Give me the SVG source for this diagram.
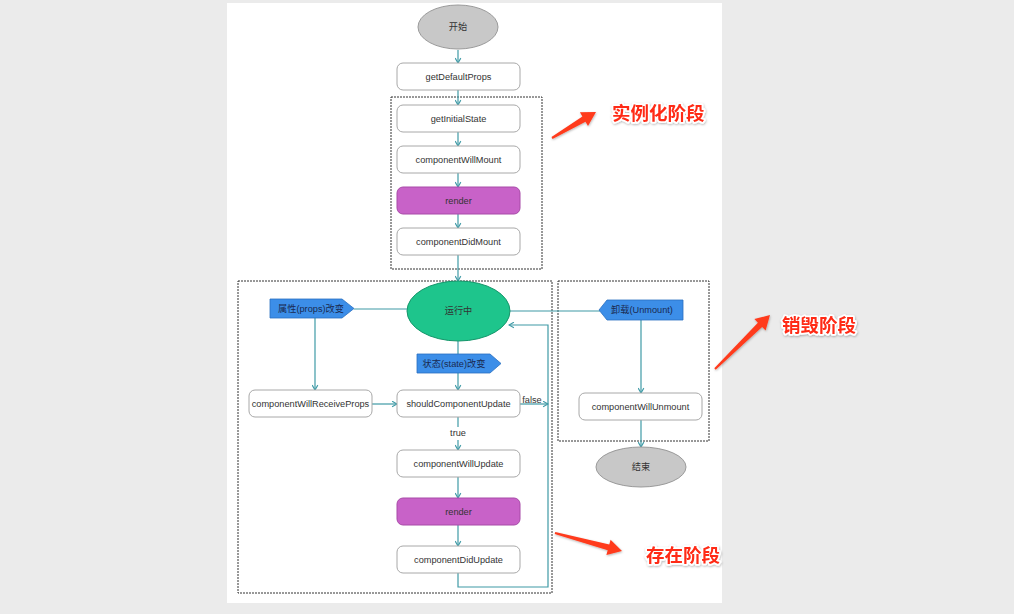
<svg xmlns="http://www.w3.org/2000/svg" width="1014" height="614" viewBox="0 0 1014 614">
<style>
.node rect{fill:#fff;stroke:#a8a8a8;stroke-width:1}
.node text,.lbl{font-family:"Liberation Sans","Noto Sans CJK SC",sans-serif;font-size:9.2px;fill:#333;text-anchor:middle;dominant-baseline:central}
.node rect.pink{fill:#c862c8;stroke:#a84aa8}
.term ellipse{fill:#c8c8c8;stroke:#9a9a9a}
.run ellipse{fill:#1ec58c;stroke:#15956a}
.evt polygon{fill:#3c8ee8;stroke:#2a70c0;stroke-width:0.8}
.evt text{fill:#1a2a50}
.phase{fill:none;stroke:#333;stroke-width:1;stroke-dasharray:2 1}
#connectors line,#connectors path{fill:none;stroke:#3f9aa6;stroke-width:1.2}
.red{fill:#ff3a1c}
.rtext{font-family:"Noto Sans CJK SC",sans-serif;font-size:18.5px;font-weight:bold;fill:#ff2a14;stroke:#fff;stroke-width:3.5;paint-order:stroke;stroke-linejoin:round}
</style>
<defs>
<marker id="ah" viewBox="0 0 10 10" refX="9" refY="5" markerWidth="7" markerHeight="7" markerUnits="userSpaceOnUse" orient="auto">
<path d="M2,1 L9,5 L2,9" fill="none" stroke="#3f9aa6" stroke-width="1.6"/>
</marker>
<filter id="sh" x="-20%" y="-40%" width="140%" height="180%">
<feDropShadow dx="0.5" dy="1" stdDeviation="1" flood-color="#000" flood-opacity="0.3"/>
</filter>
</defs>
<rect width="1014" height="614" fill="#ebebeb"/>
<rect x="227" y="3" width="495" height="600" fill="#fff"/>

<g id="phases">
<rect class="phase" x="391" y="97" width="151" height="172"/>
<rect class="phase" x="238" y="281" width="314" height="312"/>
<rect class="phase" x="558" y="281" width="151" height="160"/>
</g>

<g id="connectors">
<line x1="458" y1="50" x2="458" y2="63" marker-end="url(#ah)"/>
<line x1="458" y1="90" x2="458" y2="105" marker-end="url(#ah)"/>
<line x1="458" y1="132" x2="458" y2="146" marker-end="url(#ah)"/>
<line x1="458" y1="173" x2="458" y2="187" marker-end="url(#ah)"/>
<line x1="458" y1="214" x2="458" y2="228" marker-end="url(#ah)"/>
<line x1="458" y1="255" x2="458" y2="281" marker-end="url(#ah)"/>
<line x1="407" y1="309" x2="354" y2="309"/>
<line x1="315" y1="318" x2="315" y2="390" marker-end="url(#ah)"/>
<line x1="458" y1="341" x2="458" y2="354"/>
<line x1="458" y1="373" x2="458" y2="390" marker-end="url(#ah)"/>
<line x1="372" y1="404" x2="397" y2="404" marker-end="url(#ah)"/>
<line x1="520" y1="404" x2="548" y2="404" marker-end="url(#ah)"/>
<line x1="458" y1="417" x2="458" y2="427"/>
<line x1="458" y1="440" x2="458" y2="450" marker-end="url(#ah)"/>
<line x1="458" y1="477" x2="458" y2="498" marker-end="url(#ah)"/>
<line x1="458" y1="525" x2="458" y2="546" marker-end="url(#ah)"/>
<path d="M458,573 V587 H548 V325 H509" marker-end="url(#ah)"/>
<line x1="510" y1="311" x2="600" y2="311"/>
<line x1="641" y1="320" x2="641" y2="393" marker-end="url(#ah)"/>
<line x1="641" y1="420" x2="641" y2="447" marker-end="url(#ah)"/>
<text class="lbl" x="532" y="400">false</text>
<text class="lbl" x="458" y="433">true</text>
</g>

<g id="start" class="node term"><ellipse cx="458" cy="27" rx="40" ry="22"/><text x="458" y="27">开始</text></g>
<g id="getDefaultProps" class="node"><rect x="397" y="63" width="123" height="27" rx="6"/><text x="458.5" y="76.5">getDefaultProps</text></g>
<g id="getInitialState" class="node"><rect x="397" y="105" width="123" height="27" rx="6"/><text x="458.5" y="118.5">getInitialState</text></g>
<g id="componentWillMount" class="node"><rect x="397" y="146" width="123" height="27" rx="6"/><text x="458.5" y="159.5">componentWillMount</text></g>
<g id="render1" class="node"><rect class="pink" x="397" y="187" width="123" height="27" rx="6"/><text x="458.5" y="200.5">render</text></g>
<g id="componentDidMount" class="node"><rect x="397" y="228" width="123" height="27" rx="6"/><text x="458.5" y="241.5">componentDidMount</text></g>

<g id="running" class="node run"><ellipse cx="458.5" cy="311" rx="51.5" ry="30"/><text x="458.5" y="311">运行中</text></g>
<g id="propsChange" class="node evt"><polygon points="270,299 342,299 354,308.5 342,318 270,318"/><text x="311" y="308.5">属性(props)改变</text></g>
<g id="stateChange" class="node evt"><polygon points="417,354 490,354 501,363.5 490,373 417,373"/><text x="454" y="363.5">状态(state)改变</text></g>
<g id="unmount" class="node evt"><polygon points="599,310 607,300 683,300 683,320 607,320"/><text x="642" y="310">卸载(Unmount)</text></g>

<g id="componentWillReceiveProps" class="node"><rect x="249" y="390" width="123" height="27" rx="6"/><text x="310.5" y="403.5">componentWillReceiveProps</text></g>
<g id="shouldComponentUpdate" class="node"><rect x="397" y="390" width="123" height="27" rx="6"/><text x="458.5" y="403.5">shouldComponentUpdate</text></g>
<g id="componentWillUpdate" class="node"><rect x="397" y="450" width="123" height="27" rx="6"/><text x="458.5" y="463.5">componentWillUpdate</text></g>
<g id="render2" class="node"><rect class="pink" x="397" y="498" width="123" height="27" rx="6"/><text x="458.5" y="511.5">render</text></g>
<g id="componentDidUpdate" class="node"><rect x="397" y="546" width="123" height="27" rx="6"/><text x="458.5" y="559.5">componentDidUpdate</text></g>
<g id="componentWillUnmount" class="node"><rect x="579" y="393" width="123" height="27" rx="6"/><text x="640.5" y="406.5">componentWillUnmount</text></g>
<g id="end" class="node term"><ellipse cx="641" cy="467" rx="45" ry="20"/><text x="641" y="467">结束</text></g>

<g id="annotations" filter="url(#sh)">
<polygon class="red" points="552.5,138.9 585.5,121.7 588,126 596,112 579.9,112.2 582.4,116.5 551.5,137.1"/>
<polygon class="red" points="715.7,369.7 762.1,326.9 765.6,330.5 770,315 754.4,319.1 757.9,322.7 714.3,368.3"/>
<polygon class="red" points="554.7,534 607.7,550.3 606.4,555.1 622,551 610.6,539.7 609.3,544.5 555.3,532"/>
<text class="rtext" x="612" y="120">实例化阶段</text>
<text class="rtext" x="782" y="332">销毁阶段</text>
<text class="rtext" x="646" y="562">存在阶段</text>
</g>
</svg>
